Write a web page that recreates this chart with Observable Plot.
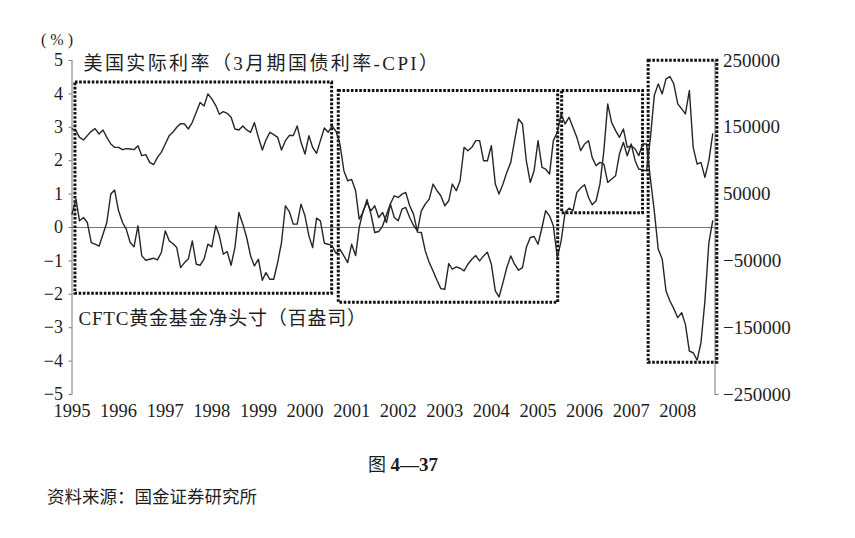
<!DOCTYPE html>
<html><head><meta charset="utf-8">
<script src="https://cdn.jsdelivr.net/npm/d3@7"></script>
<script src="https://cdn.jsdelivr.net/npm/@observablehq/plot@0.6"></script>
<style>
html,body{margin:0;padding:0;background:#fff;}
#wrap{position:relative;width:855px;height:538px;font-family:"Liberation Serif","Noto Sans CJK SC",serif;color:#1e1e1e;}
#chart{position:absolute;left:0;top:0;}
#fig{position:absolute;left:368px;top:450px;font-size:18px;white-space:nowrap;}
#fig b{font-family:"Liberation Serif",serif;font-weight:bold;font-size:19px;}
#src{position:absolute;left:47px;top:483px;font-size:17.5px;font-family:"Noto Sans CJK SC",sans-serif;white-space:nowrap;}
.lbl1 text{letter-spacing:2.4px;}
.lbl2 text{letter-spacing:0.8px;}
</style></head><body>
<div id="wrap"><div id="chart"></div>
<div id="fig">图 <b>4—37</b></div>
<div id="src">资料来源：国金证券研究所</div></div>
<script>
// monthly series, January 1995 – October 2008
const firstYear = 1995;
const realRate = [2.95,2.9,2.7,2.62,2.75,2.88,2.96,2.8,2.92,2.7,2.5,2.4,
 2.4,2.33,2.36,2.35,2.33,2.45,2.15,2.18,1.95,1.88,2.1,2.25,
 2.5,2.75,2.85,3.0,3.11,3.1,2.95,3.15,3.45,3.74,3.64,4.0,
 3.85,3.65,3.39,3.47,3.42,3.3,2.95,2.92,3.04,2.92,2.85,3.14,
 2.7,2.32,2.62,2.85,2.78,2.7,2.32,2.6,2.76,2.75,3.04,2.55,
 2.2,2.75,2.4,2.22,2.6,2.98,2.85,3.04,2.88,2.5,1.7,1.4,
 1.44,1.1,0.25,0.46,0.84,0.4,-0.15,-0.12,0.05,0.38,0.71,0.95,
 0.9,1.0,1.05,0.65,0.4,-0.14,-0.15,-0.7,-1.05,-1.3,-1.58,-1.83,
 -1.85,-1.08,-1.25,-1.18,-1.22,-1.3,-1.1,-0.95,-0.84,-1.0,-0.85,-0.74,
 -1.1,-1.9,-2.08,-1.65,-1.2,-0.85,-1.1,-1.28,-1.2,-0.6,-0.3,-0.27,
 -0.5,0.0,0.5,0.35,0.05,-0.9,-0.4,0.45,0.58,0.5,1.05,1.18,
 1.28,0.9,0.68,0.8,1.3,2.3,3.7,3.14,2.9,2.7,2.95,2.4,
 2.45,2.35,2.15,2.5,2.5,1.45,0.5,-0.65,-0.94,-1.9,-2.2,-2.43,
 -2.7,-2.55,-2.9,-3.7,-3.75,-3.97,-3.45,-2.2,-0.45,0.2];
const cftcNet = [20000,42500,10000,15000,7500,-22500,-25000,-28000,-10000,7500,50000,56000,
 25000,7500,-2500,-22500,-29000,2500,-42500,-49000,-47500,-46000,-48500,-37500,
 -5000,-20000,-24000,-30000,-60000,-52500,-47000,-20000,-55000,-56500,-47500,-25000,
 -29000,2500,-12500,-40000,-36000,-56500,-30000,22500,5000,-15000,-42500,-57500,
 -47500,-79000,-67500,-77500,-77500,-52500,-22500,32500,23500,5000,5000,35000,
 17500,-12500,-30000,14000,10000,-23500,-25000,-27500,-39000,-32500,-42500,-52500,
 -25000,-42000,0,25000,37500,25000,32500,15000,22500,7500,35000,15000,
 10000,28000,30000,15000,3000,-5000,25000,35000,42500,65000,55000,47500,
 32500,40000,65000,55000,70000,120000,115000,120000,130000,130000,100000,100000,
 122500,65000,50000,65000,82500,97500,130000,162500,155000,100000,67500,85000,
 130000,90000,87500,80000,130000,142500,170000,155000,165000,150000,135000,115000,
 125000,130000,105000,92500,97500,95000,67500,72500,77500,110000,127500,107500,
 125000,100000,87500,86000,85000,135000,197500,215000,200000,222500,226000,215000,
 185000,177500,170000,205000,120000,95000,97500,75000,100000,140000];
const yearTicks = [1995,1996,1997,1998,1999,2000,2001,2002,2003,2004,2005,2006,2007,2008];
const leftTicks = [-5,-4,-3,-2,-1,0,1,2,3,4,5];
const rightTicks = [250000,150000,50000,-50000,-150000,-250000];
const seriesNames = ["美国实际利率（3月期国债利率-CPI）","CFTC黄金基金净头寸（百盎司）"];
// highlighted periods (dotted boxes): start, end, low %, high %
const boxStart = ["1995-01-28","2000-09-22","2005-07-09","2007-05-18"];
const boxEnd   = ["2000-08-01","2005-06-08","2007-04-04","2008-11-06"];
const boxLow   = [-1.98,-2.25,0.43,-4.05];
const boxHigh  = [4.34,4.09,4.09,4.99];

const ratio = 50000; // 1 percentage point on the left axis = 50000 on the right axis
const rows = realRate.map((v,i)=>({date:new Date(firstYear,i,1), rate:v, cftc:cftcNet[i]}));
const boxes = boxStart.map((s,i)=>({x1:new Date(s), x2:new Date(boxEnd[i]), y1:boxLow[i], y2:boxHigh[i]}));
const minus = d => d < 0 ? "\u2212" + Math.abs(d) : String(d);

const chart = Plot.plot({
  width: 855, height: 430,
  marginLeft: 71.5, marginRight: 140.5, marginTop: 60, marginBottom: 36,
  x: {type:"time", domain:[new Date(1995,0,1), new Date(2008,9,19)]},
  y: {domain:[-5,5]},
  style: {fontFamily:'"Liberation Serif","Noto Sans CJK SC",serif', fontSize:"18px", color:"#1e1e1e", background:"transparent", overflow:"visible"},
  marks: [
    Plot.frame({anchor:"left", stroke:"#777", strokeWidth:1}),
    Plot.frame({anchor:"right", stroke:"#777", strokeWidth:1}),
    Plot.ruleY([0], {stroke:"#666", strokeWidth:0.9}),
    Plot.axisY({ticks:leftTicks, tickSize:3, tickPadding:6, tickFormat:minus, label:null, stroke:"#777"}),
    Plot.axisY({anchor:"right", ticks:rightTicks.map(d=>d/ratio), tickSize:3, tickPadding:5, tickFormat:d=>minus(Math.round(d*ratio)), label:null, stroke:"#777", fontSize:19}),
    Plot.axisX({ticks:yearTicks.map(y=>new Date(y,0,1)), tickFormat:d=>String(d.getFullYear()), tickSize:0, tickPadding:9, label:null, fontSize:18.5}),
    Plot.rect(boxes, {x1:"x1", x2:"x2", y1:"y1", y2:"y2", fill:"none", stroke:"#111", strokeWidth:3, strokeDasharray:"2.6,1.6"}),
    Plot.line(rows, {x:"date", y:"rate", stroke:"#262626", strokeWidth:1.4}),
    Plot.line(rows, {x:"date", y:d=>d.cftc/ratio, stroke:"#262626", strokeWidth:1.4}),
    Plot.text(["( % )"], {frameAnchor:"top-left", dx:-31, dy:-27, textAnchor:"start", fontSize:16}),
    Plot.text([seriesNames[0]], {x:()=>new Date(1995,3,1), y:()=>4.9, text:d=>d, textAnchor:"start", fontSize:19, className:"lbl1"}),
    Plot.text([seriesNames[1]], {x:()=>new Date(1995,1,21), y:()=>-2.75, text:d=>d, textAnchor:"start", fontSize:19, className:"lbl2"})
  ]
});
document.getElementById("chart").appendChild(chart);
</script>
</body></html>
